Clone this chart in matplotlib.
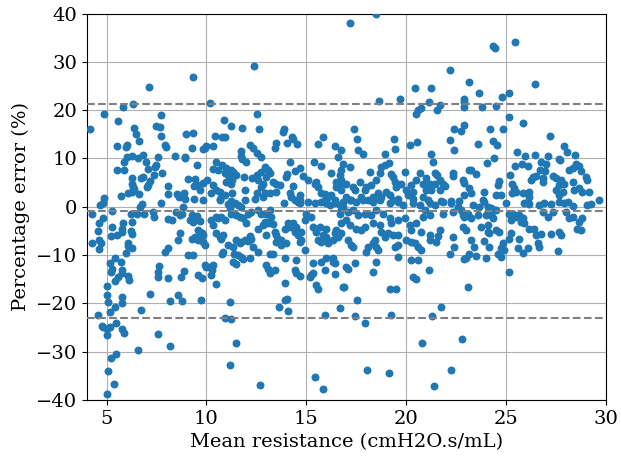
import numpy as np
import matplotlib
matplotlib.use("Agg")
import matplotlib.pyplot as plt

plt.rcParams.update({
    "font.family": "DejaVu Serif",
    "font.size": 14,
})

# (mean resistance, percentage error), strip by strip
strip_a = [
    (4.17, 16.1), (4.87, 19.3), (5.83, 20.6), (6.33, 21.3), (7.12, 24.7), (5.55, 17.8),
    (7.72, 19.0), (6.35, 16.4), (7.47, 16.7), (7.67, 16.6), (6.47, 15.0), (7.72, 14.7),
    (6.63, 13.6), (5.52, 12.6), (5.95, 12.4), (6.0, 12.8), (7.92, 12.8), (7.98, 12.3),
    (8.42, 10.6), (6.0, 10.3), (6.25, 10.6), (6.58, 10.1), (6.8, 10.8), (7.58, 10.4),
    (5.88, 9.2), (6.97, 9.3), (7.47, 8.6), (7.42, 8.3), (5.5, 7.7), (5.85, 7.6),
    (7.08, 7.8), (7.75, 7.0), (7.38, 6.6), (6.83, 6.2), (6.72, 5.9), (6.25, 6.0),
    (7.17, 5.4), (7.08, 4.5), (7.0, 4.1), (6.25, 4.8), (6.33, 4.1), (6.38, 3.6),
    (6.25, 3.1), (6.08, 2.8), (8.05, 4.3), (8.05, 2.6), (6.63, 2.6), (5.7, 2.3),
    (4.87, 1.9),
    (4.67, 0.35), (4.83, 0.8), (4.28, -1.4), (5.25, -0.9), (6.78, 0.6), (6.67, -0.1),
    (7.72, 0.8), (6.2, -1.4), (6.5, -1.4), (6.88, -1.5), (7.33, -1.0), (7.38, -2.1),
    (8.08, -2.6), (8.28, -2.8), (4.83, -2.4), (4.63, -3.3), (5.83, -3.3), (6.28, -3.1),
    (5.25, -4.1), (4.58, -5.0), (5.75, -4.7), (5.78, -5.2), (6.22, -5.0), (6.25, -5.7),
    (5.2, -6.1), (5.53, -5.9), (4.28, -7.6), (4.62, -6.9), (4.7, -7.4), (6.05, -7.5),
    (6.08, -8.1), (6.28, -8.6), (5.97, -9.5), (4.63, -8.8), (7.92, -9.4), (8.08, -8.5),
    (5.17, -11.6), (5.42, -10.7), (5.72, -11.4), (5.25, -12.8), (5.22, -13.5), (5.75, -13.1),
    (5.78, -13.7), (5.58, -14.6), (5.42, -15.3), (6.08, -14.3), (6.13, -15.2), (7.62, -12.3),
    (7.58, -13.5), (7.55, -14.5), (8.08, -14.7), (5.0, -16.4), (5.0, -18.3), (5.75, -18.6),
    (5.75, -19.9), (7.17, -18.1), (5.08, -19.7), (5.42, -20.7), (5.17, -21.7), (6.7, -21.4),
    (8.17, -19.5), (4.55, -22.4), (4.83, -24.8), (4.75, -24.7), (5.0, -25.2), (5.17, -24.8),
    (5.45, -24.0), (5.75, -25.2), (5.87, -26.1), (5.0, -26.6), (7.55, -26.4), (8.17, -28.8),
    (6.58, -29.7), (5.47, -30.4), (5.22, -31.4), (5.05, -34.0), (5.37, -36.7), (5.03, -38.8),
]

strip_b = [
    (9.30, 26.8), (12.37, 29.2), (10.2, 21.4), (12.53, 19.2), (10.88, 17.9), (11.23, 16.8),
    (11.77, 16.4), (12.63, 16.2), (8.97, 15.0), (9.3, 15.2), (10.42, 14.7), (10.8, 14.4),
    (10.92, 14.4), (9.27, 12.2), (9.8, 12.0), (10.0, 12.6), (10.33, 12.6), (9.9, 12.2),
    (12.2, 12.8), (12.33, 12.2), (12.53, 11.2), (11.75, 11.6), (11.75, 10.6), (11.8, 9.9),
    (11.97, 9.3), (8.92, 10.4), (8.92, 10.0), (9.53, 8.6), (10.47, 9.3), (10.78, 8.6),
    (10.33, 7.9), (10.58, 7.7), (11.0, 8.1), (11.25, 7.7), (11.33, 7.2), (11.5, 6.6),
    (10.92, 7.0), (11.08, 6.6), (11.17, 5.9), (11.3, 5.5), (11.0, 5.2), (11.87, 6.2),
    (12.3, 5.9), (12.53, 6.6), (9.08, 5.7), (9.42, 5.7), (9.83, 5.0), (9.58, 4.6),
    (9.37, 4.2), (9.67, 3.5), (10.05, 5.5), (10.33, 4.6), (10.5, 3.5), (10.67, 3.1),
    (10.25, 2.9), (11.25, 4.7), (11.3, 2.8), (10.92, 2.4), (11.92, 3.5), (12.53, 2.9),
    (12.42, 1.7), (11.92, 1.3), (8.53, 2.6), (8.87, 2.8), (8.92, 1.7), (8.63, 2.0),
    (9.37, 1.7), (10.7, 1.7), (11.25, 1.2),
    (8.83, 0.0), (8.47, -1.0), (8.67, -1.7), (8.75, -1.4), (9.25, -1.7), (9.37, -2.1),
    (9.5, -1.9), (9.17, -2.8), (9.3, -3.1), (9.67, -2.9), (9.83, 1.4), (10.67, 1.4),
    (11.08, 0.6), (11.42, 0.7), (11.58, 0.35), (11.75, 0.0), (11.17, -0.15), (11.25, -1.4),
    (11.5, -1.7), (11.67, -2.1), (11.83, -2.4), (12.08, -1.4), (12.25, -1.0), (12.0, -3.4),
    (10.25, -2.8), (10.5, -2.1), (10.58, -2.4), (10.75, -2.1), (10.92, -2.8), (10.33, -3.8),
    (10.47, -5.4), (10.67, -6.2), (10.75, -6.6), (10.83, -5.9), (9.58, -4.8), (9.67, -5.2),
    (9.75, -5.5), (9.83, -5.9), (9.42, -6.2), (9.25, -6.6), (9.58, -6.8), (9.8, -7.2),
    (9.92, -7.9), (8.58, -6.8), (8.67, -5.4), (11.5, -6.9), (11.67, -7.6), (11.75, -7.2),
    (11.92, -6.8), (12.08, -7.0), (12.17, -6.1), (12.25, -6.6), (12.33, -8.3), (11.33, -8.3),
    (11.08, -7.9), (10.83, -9.3), (10.8, -9.7), (11.37, -9.7), (11.58, -10.0), (11.75, -10.3),
    (11.83, -10.9), (12.17, -10.7), (12.58, -9.3), (9.08, -9.9), (9.3, -9.9), (11.33, -11.4),
    (11.47, -11.9), (8.7, -14.6), (8.87, -13.2), (9.58, -14.1), (9.75, -14.8), (9.92, -12.1),
    (10.0, -12.4), (10.2, -12.4), (10.33, -12.1), (10.3, -13.1), (10.25, -14.1), (10.47, -15.9),
    (8.75, -19.5), (8.58, -18.3), (9.72, -19.3), (11.2, -19.8), (10.92, -23.0), (11.25, -23.3),
    (11.5, -28.3), (11.2, -32.8), (12.67, -36.9),
]

strip_c = [
    (13.88, 16.2), (13.83, 15.5), (14.28, 14.5), (14.33, 14.1), (14.05, 13.3), (14.55, 12.9),
    (13.5, 13.1), (13.42, 12.2), (15.83, 14.5), (15.58, 13.0), (16.42, 12.6), (16.75, 11.7),
    (16.58, 10.4), (12.75, 10.4), (14.17, 9.2), (14.45, 7.5), (14.67, 8.0), (15.38, 9.3),
    (15.75, 8.5), (14.83, 6.4), (14.03, 6.8), (14.0, 6.2), (12.92, 8.3), (13.08, 7.7),
    (13.17, 6.9), (12.75, 7.2), (13.0, 6.2), (12.58, 5.5), (12.83, 4.8), (12.75, 4.1),
    (13.33, 5.2), (13.5, 4.8), (13.67, 4.5), (13.5, 3.1), (13.17, 2.9), (12.92, 2.8),
    (12.83, 2.1), (14.33, 4.3), (14.17, 2.8), (14.25, 2.1), (14.67, 2.4), (15.08, 5.5),
    (15.42, 4.8), (15.5, 5.2), (15.58, 4.1), (15.75, 2.9), (15.92, 2.6), (16.25, 6.9),
    (16.67, 6.6), (16.75, 5.5), (16.5, 5.2), (16.67, 4.8), (16.5, 4.1), (16.75, 3.5),
    (16.25, 2.4), (16.08, 2.1), (16.42, 1.4), (15.92, 1.4), (14.42, 1.4), (14.67, 1.5),
    (13.87, 0.7), (14.58, 1.0), (14.67, 0.7), (15.08, 1.0), (15.42, 0.8), (15.75, 1.0),
    (16.0, 0.7), (16.17, 0.35), (16.42, 0.7), (16.67, 0.35), (16.83, 0.0), (12.58, -0.7),
    (12.75, -1.4), (13.0, -1.4), (13.17, -0.7), (13.25, -2.1), (12.92, -3.1), (12.83, -3.8),
    (13.08, -3.4), (13.33, -3.6), (12.58, -4.5), (13.0, -5.9), (13.42, -5.2), (13.5, -5.9),
    (13.58, -6.6), (13.5, -7.2), (13.75, -6.9), (13.75, -7.9), (14.0, -7.6), (13.92, -4.5),
    (14.08, -3.4), (14.17, -4.1), (14.33, -3.4), (14.5, -4.1), (14.42, -5.2), (14.58, -5.9),
    (14.75, -5.2), (14.92, -2.8), (15.0, -1.4), (15.25, -2.1), (15.33, -4.1), (15.5, -5.2),
    (15.67, -4.1), (15.83, -5.9), (16.0, -4.5), (16.0, -6.2), (15.58, -6.9), (15.75, -7.2),
    (16.08, -7.6), (16.33, -6.9), (16.42, -5.5), (16.5, -4.8), (16.58, -6.2), (16.75, -3.4),
    (16.67, -1.4), (14.75, -6.9), (14.67, -7.2), (14.92, -8.9), (13.17, -9.7), (13.33, -9.8),
    (13.92, -10.5), (14.5, -11.0), (15.33, -11.7), (15.75, -11.4), (16.0, -10.7), (16.33, -11.4),
    (16.42, -11.7), (16.33, -10.7), (13.0, -12.1), (13.08, -12.8), (13.17, -13.8), (13.42, -13.1),
    (14.42, -13.1), (14.5, -13.8), (14.67, -14.3), (15.17, -14.6), (15.25, -14.1), (15.33, -13.8),
    (15.92, -13.1), (16.42, -13.9), (15.5, -16.2), (15.58, -17.1), (16.83, -16.7), (13.95, -15.7),
    (13.92, -19.2), (14.05, -19.1), (13.62, -20.7), (14.08, -21.5), (16.67, -20.9), (15.95, -22.4),
    (15.42, -35.3), (15.83, -37.7),
]

strip_d = [
    (18.47, 40.0), (17.2, 38.0), (20.42, 24.5), (18.62, 21.9), (19.67, 22.4), (20.75, 20.5),
    (20.58, 20.0), (20.5, 19.3), (17.37, 16.1), (17.53, 14.0), (17.58, 11.7), (17.83, 10.9),
    (19.38, 14.1), (19.42, 11.9), (18.92, 10.9), (20.17, 12.8), (20.53, 13.4),
    (16.83, 8.9), (16.75, 7.6), (17.0, 4.8), (17.17, 8.3), (17.33, 4.1), (17.42, 3.5),
    (17.67, 5.2), (17.92, 3.5), (18.0, 4.1), (18.25, 4.5), (18.17, 7.2), (18.5, 5.5),
    (18.67, 6.9), (18.75, 8.3), (18.92, 8.6), (19.13, 9.1), (19.25, 6.8), (19.33, 6.2),
    (19.42, 5.2), (19.5, 4.1), (19.75, 4.8), (19.92, 7.2), (20.0, 3.5), (20.25, 4.5),
    (20.33, 3.1), (20.5, 5.5), (20.67, 6.9), (20.83, 4.8), (17.0, 2.1), (17.25, 1.5),
    (17.75, 2.1), (18.08, 1.4), (18.33, 2.1), (18.58, 2.8), (18.75, 2.1), (19.0, 3.1),
    (19.17, 2.4), (19.33, 1.4), (19.58, 1.7), (20.08, 2.4), (20.33, 1.7), (20.83, 2.1),
    (16.83, 1.0), (17.17, 1.4), (17.5, 1.0), (17.83, 1.4), (18.33, 1.0), (18.67, 1.4),
    (19.17, 0.7), (19.58, 1.0), (19.83, 0.35), (16.75, -0.7), (17.08, -1.0), (17.33, -0.7),
    (17.58, -1.7), (17.92, -1.4), (18.25, -1.7), (18.5, -0.7), (18.83, -1.4), (19.17, -2.4),
    (19.25, -3.4), (19.58, -2.8), (19.92, -2.4), (17.0, -2.8), (17.17, -3.8), (17.5, -4.5),
    (17.75, -4.8), (17.92, -4.1), (18.33, -3.4), (18.67, -3.8), (18.75, -5.2), (18.92, -6.2),
    (19.08, -5.5), (19.33, -5.9), (19.58, -5.9), (18.42, -6.9), (18.33, -7.6), (18.5, -8.3),
    (18.58, -8.9), (18.08, -8.3), (18.0, -9.3), (17.33, -8.3), (17.25, -7.9), (17.08, -6.9),
    (16.75, -5.5), (19.42, -8.3), (19.58, -7.9), (20.0, -6.9), (20.25, -7.2), (20.42, -7.6),
    (20.58, -8.3), (20.75, -8.9), (20.17, -3.8), (20.25, -4.8), (20.5, -3.4), (20.75, -5.2),
    (20.83, -2.1), (20.92, -0.7), (20.33, 0.7), (20.67, 0.35), (19.58, -10.3), (20.25, -11.0),
    (20.58, -11.0), (18.5, -11.4), (17.42, -11.7), (17.0, -12.4), (17.08, -12.8), (18.33, -13.6),
    (20.33, -14.6), (20.5, -14.9), (16.87, -16.7), (19.17, -17.0), (19.47, -17.1), (17.53, -19.3),
    (17.42, -22.6), (17.92, -24.1), (19.25, -22.3), (20.8, -28.1), (18.03, -33.7), (19.12, -34.5),
]

strip_e = [
    (24.33, 33.3), (24.47, 32.8), (22.2, 28.4), (23.17, 25.8), (21.25, 24.5), (23.63, 23.5),
    (25.17, 23.6), (24.78, 22.7), (21.12, 21.7), (21.67, 21.0), (21.55, 20.0), (22.92, 22.4),
    (22.88, 21.7), (22.92, 20.6), (23.78, 20.6), (24.5, 20.8), (25.13, 18.6), (22.42, 16.2),
    (22.75, 15.7), (22.88, 16.9), (24.2, 16.0), (24.83, 16.0), (22.17, 13.8), (22.42, 11.7),
    (23.58, 13.0), (24.33, 13.7), (24.55, 12.8), (24.42, 10.0), (24.05, 9.0), (21.25, 11.0),
    (21.33, 9.3), (21.42, 7.0), (21.55, 6.6), (22.33, 7.0), (22.33, 6.4), (23.17, 7.7),
    (23.25, 7.6), (23.5, 6.8), (21.0, 5.9), (21.17, 4.8), (21.42, 4.8), (21.67, 5.5),
    (21.83, 4.8), (21.92, 4.3), (21.67, 3.5), (21.25, 3.5), (21.0, 3.5), (22.83, 5.5),
    (22.92, 5.0), (23.17, 3.8), (23.25, 2.8), (22.92, 2.4), (23.92, 3.0), (24.58, 4.5),
    (24.67, 5.4), (24.5, 2.4), (24.75, 2.4), (25.22, 6.6), (25.28, 4.8), (25.28, 2.9),
    (21.08, 1.5), (21.75, 1.2), (22.25, 1.2), (22.67, 1.2), (23.83, 1.4),
    (21.17, 0.7), (21.42, 0.35), (21.83, 1.0), (22.25, 0.7), (22.58, 0.0), (22.75, -0.7),
    (23.08, -1.4), (23.33, 0.35), (23.67, 0.0), (23.92, 1.0), (24.08, 0.0), (24.25, -0.35),
    (24.5, -0.7), (25.0, 0.7), (25.17, -1.4), (25.25, -2.8), (21.17, -1.7), (21.83, -1.4),
    (22.33, -1.0), (22.83, -1.7), (22.92, -2.1), (23.25, -2.4), (23.58, -1.7), (24.0, -1.7),
    (24.25, -1.7), (24.33, -2.4), (24.42, -0.7), (23.75, -4.1), (24.08, -3.8), (22.83, -4.1),
    (23.0, -4.8), (24.5, -4.8), (24.67, -5.2), (24.08, -5.2), (24.17, -5.5), (21.17, -5.9),
    (21.67, -4.8), (21.58, -6.1), (21.5, -7.2), (21.17, -6.9), (22.33, -6.2), (23.25, -6.8),
    (23.92, -7.0), (24.17, -8.3), (23.42, -8.3), (24.83, -7.6), (24.92, -8.9), (24.75, -8.6),
    (25.25, -5.5), (25.17, -6.6), (22.17, -9.7), (22.42, -8.3), (22.92, -10.9), (23.0, -10.7),
    (23.17, -9.7), (23.5, -10.1), (24.0, -10.7), (24.58, -9.7), (24.75, -10.3), (21.12, -13.1),
    (25.17, -13.4), (23.08, -16.7), (21.75, -20.8), (21.3, -22.6), (22.8, -27.4), (22.22, -33.7),
    (21.37, -37.1),
]

strip_f = [
    (25.45, 34.2), (26.45, 25.5), (25.83, 17.3), (27.2, 14.6), (27.92, 12.6), (28.03, 11.4),
    (28.45, 10.8), (25.53, 11.4), (25.97, 10.6), (26.45, 10.7), (27.08, 10.6), (27.67, 9.9),
    (27.7, 9.7), (25.47, 8.5), (25.8, 8.8), (26.08, 8.5), (26.75, 9.3), (27.0, 8.9),
    (26.7, 7.7), (26.97, 7.5), (28.17, 7.7), (28.33, 8.0), (28.5, 8.9), (28.67, 8.5),
    (28.75, 7.5), (25.42, 3.8), (25.5, 3.1), (25.83, 2.8), (26.17, 3.1), (26.25, 5.5),
    (26.33, 6.2), (26.5, 6.4), (26.83, 5.9), (26.83, 5.2), (27.33, 6.4), (27.5, 5.9),
    (27.75, 5.5), (27.67, 4.5), (27.5, 3.5), (27.67, 2.4), (27.83, 3.1), (27.92, 4.8),
    (28.33, 5.2), (28.42, 3.5), (28.67, 3.8), (28.83, 3.1), (29.0, 6.2), (29.08, 5.5),
    (29.17, 3.1), (29.67, 1.4), (26.17, 2.1),
    (25.92, 0.7), (26.08, 1.0), (26.17, 0.6), (26.67, 0.35), (26.92, 0.7), (27.25, 0.6),
    (27.67, 1.0), (27.92, 0.7), (28.08, 1.0), (28.33, 0.15), (29.08, 0.35), (29.25, 0.6),
    (25.33, -1.4), (25.5, -2.1), (25.67, -1.7), (25.83, -2.4), (25.75, -3.1), (25.92, -3.4),
    (25.67, -6.6), (26.17, -4.7), (26.42, -4.7), (26.5, -5.9), (26.75, -5.7), (27.25, -5.7),
    (27.08, -2.1), (27.67, -5.2), (27.75, -5.9), (28.17, -2.4), (28.33, -2.1), (28.67, -3.1),
    (28.83, -2.4), (28.58, -4.7), (28.75, -4.8), (25.58, -8.5), (25.83, -9.5), (26.08, -8.6),
    (26.58, -7.6), (26.63, -8.3), (27.58, -9.1), (26.83, -1.0), (27.33, -1.0), (28.0, -1.0),
]

bias = -0.9
upper_loa = 21.2
lower_loa = -23.0

points = np.array(strip_a + strip_b + strip_c + strip_d + strip_e + strip_f)
mean_res = points[:, 0]
pct_err = points[:, 1]

fig = plt.figure(figsize=(6.21, 4.59), dpi=100)
ax = fig.add_axes([0.1396, 0.1285, 0.836, 0.842])
ax.grid(True, color="#b0b0b0", lw=0.8)
ax.set_axisbelow(True)
ax.scatter(mean_res, pct_err, s=22, color="#1f77b4", zorder=3)
for level in (upper_loa, bias, lower_loa):
    ax.axhline(level, color="gray", ls="--", lw=1.5, zorder=4)

ax.set_xlim(4, 30)
ax.set_ylim(-40, 40)
ax.set_xticks([5, 10, 15, 20, 25, 30])
ax.set_yticks(np.arange(-40, 41, 10))
ax.set_xlabel("Mean resistance (cmH2O.s/mL)")
ax.set_ylabel("Percentage error (%)")

fig.savefig("out.png", dpi=100)
